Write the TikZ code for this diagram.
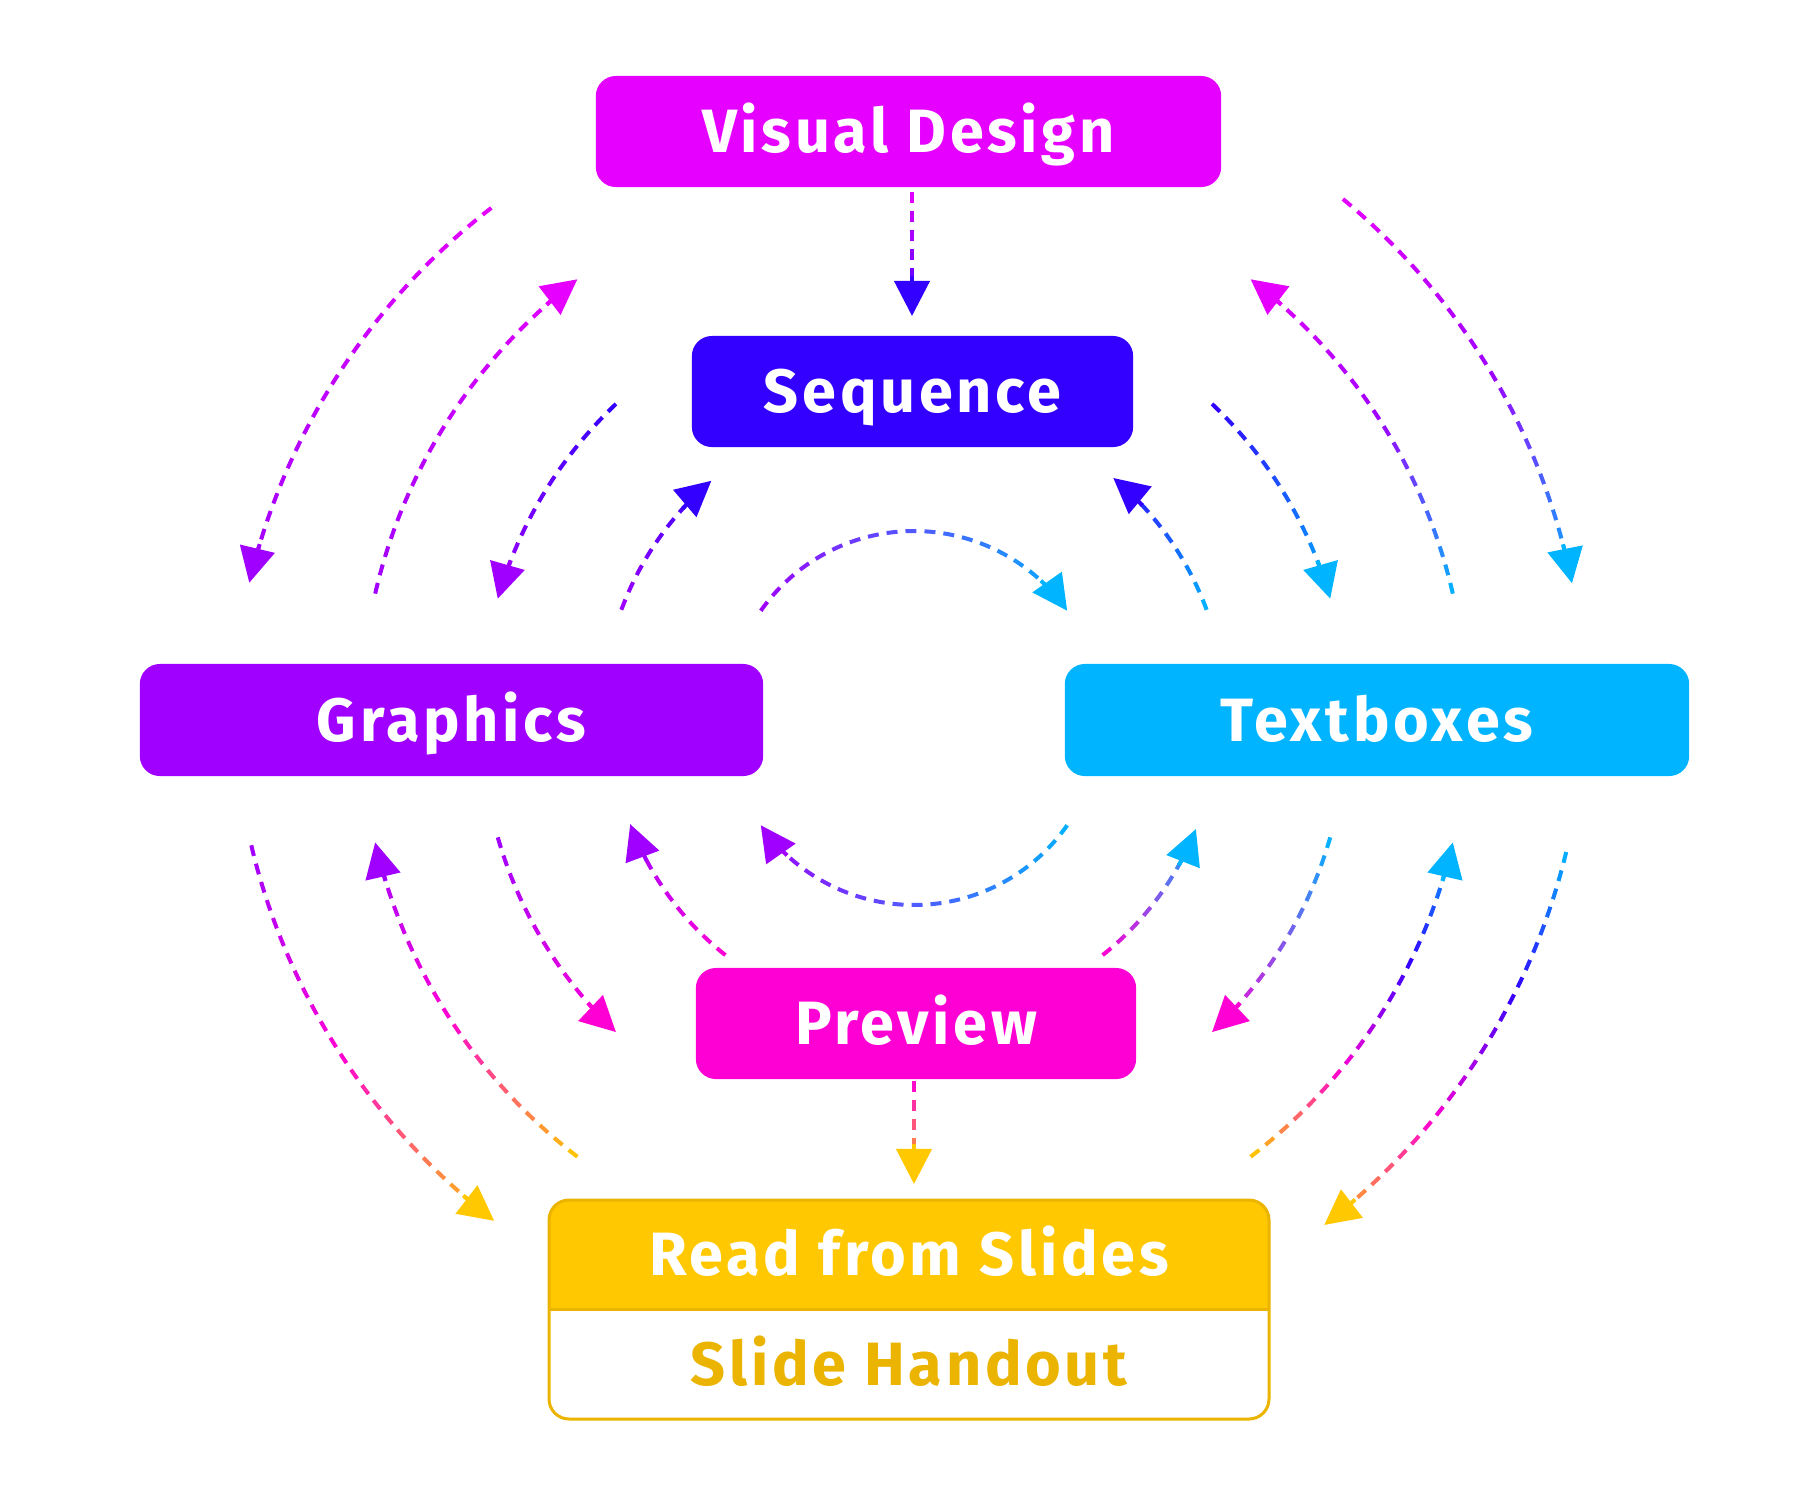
\documentclass[tikz,border=0pt]{standalone}
\usepackage{fontspec}
\usetikzlibrary{arrows.meta}
\newfontfamily\labelfont{Fira Sans}[LetterSpace=6]
\definecolor{cvd}{HTML}{E600FF}
\definecolor{cseq}{HTML}{3300FF}
\definecolor{cgr}{HTML}{A000FF}
\definecolor{ctb}{HTML}{00B4FF}
\definecolor{cpr}{HTML}{FF00D4}
\definecolor{cgold}{HTML}{FFC800}
\definecolor{cgolddark}{HTML}{EBB400}
\tikzset{
  dashseg/.style={line width=0.04cm, line cap=butt},
  headtip/.style={-{Triangle[length=0.35cm,width=0.35cm]}},
  box/.style={rounded corners=0.2cm, inner sep=0pt, text=white,
    font=\labelfont\bfseries\fontsize{17.4pt}{20pt}\selectfont,
    text height=0.42cm, text depth=0pt},
}
% colour at fraction #2 of a gradient with equally spaced stops #1 ("a","b",...)
\newcommand\gcol[2]{%
  \pgfmathtruncatemacro\gn{dim({#1})-1}%
  \pgfmathsetmacro\gx{(#2)*\gn}%
  \pgfmathtruncatemacro\gi{min(floor(\gx),\gn-1)}%
  \pgfmathtruncatemacro\gt{round(100*(\gx-\gi))}%
  \pgfmathtruncatemacro\gj{\gi+1}%
  \pgfmathparse{{#1}[\gi]}\edef\gca{\pgfmathresult}%
  \pgfmathparse{{#1}[\gj]}\edef\gcb{\pgfmathresult}%
  \colorlet{dc}{\gcb!\gt!\gca}%
}
% gradient dashed arc: #1 centre, #2 radius, #3 start angle, #4 end angle, #5 colour stops
\newcommand\garc[5]{%
  \pgfmathsetmacro\gL{abs(#4-#3)*(pi/180)*#2}%
  \pgfmathsetmacro\gB{\gL-35}%
  \pgfmathtruncatemacro\gN{floor((\gB-1)/19)}%
  \pgfmathsetmacro\gS{(#4>#3)?1:-1}%
  \pgfmathsetmacro\gD{180/pi/#2}%
  \foreach \k in {0,...,\gN}{%
    \pgfmathsetmacro\ga{#3+\gS*\k*19*\gD}%
    \pgfmathsetmacro\gb{#3+\gS*min(\k*19+11,\gB)*\gD}%
    \pgfmathsetmacro\gf{(\k*19+5.5)/\gL}%
    \gcol{#5}{\gf}%
    \draw[dashseg, dc] (#1) ++(\ga:#2) arc[start angle=\ga, end angle=\gb, radius=#2];
  }%
  \pgfmathsetmacro\ga{#4-\gS*40*\gD}%
  \gcol{#5}{1}%
  \draw[dashseg, dc, headtip] (#1) ++(\ga:#2) arc[start angle=\ga, end angle=#4, radius=#2];
}
% gradient dashed vertical line: #1 x, #2 y start, #3 y tip, #4 colour stops
\newcommand\gline[4]{%
  \pgfmathsetmacro\gL{#3-#2}%
  \pgfmathsetmacro\gB{\gL-35}%
  \pgfmathtruncatemacro\gN{floor((\gB-1)/19)}%
  \foreach \k in {0,...,\gN}{%
    \pgfmathsetmacro\ga{#2+\k*19}%
    \pgfmathsetmacro\gb{#2+min(\k*19+11,\gB)}%
    \pgfmathsetmacro\gf{(\k*19+5.5)/\gL}%
    \gcol{#4}{\gf}%
    \draw[dashseg, dc] (#1,\ga) -- (#1,\gb);
  }%
  \gcol{#4}{1}%
  \draw[dashseg, dc, headtip] (#1,#3-40) -- (#1,#3);
}
\begin{document}
\begin{tikzpicture}[x=0.01cm, y=-0.01cm]
\useasboundingbox[fill=white] (0,0) rectangle (1820,1496);
\coordinate (ctr) at (914,718);
\coordinate (ctl) at (901,738);
\coordinate (ctrr) at (915,714.5);
\coordinate (cbl) at (903,690);
\coordinate (cbr) at (915,694.5);

% boxes
\node[box, fill=cvd, minimum width=6.25cm, minimum height=1.11cm] (vd) at (908.5,131.5) {Visual Design};
\node[box, fill=cseq, minimum width=4.41cm, minimum height=1.11cm] (seq) at (912.5,391.5) {Sequence};
\node[box, fill=cgr, minimum width=6.23cm, minimum height=1.12cm] (gr) at (451.5,720) {Graphics};
\node[box, fill=ctb, minimum width=6.24cm, minimum height=1.12cm] (tb) at (1377,720) {Textboxes};
\node[box, fill=cpr, minimum width=4.40cm, minimum height=1.11cm] (pr) at (916,1023.5) {Preview};

% bottom two-part box
\fill[white, rounded corners=0.2cm] (549,1200) rectangle (1269,1419);
\begin{scope}
  \clip (540,1190) rectangle (1280,1309);
  \fill[cgold, rounded corners=0.2cm] (549,1200) rectangle (1269,1419);
\end{scope}
\draw[cgolddark, line width=0.03cm, rounded corners=0.2cm] (549,1200) rectangle (1269,1419);
\draw[cgolddark, line width=0.03cm] (549,1309) -- (1269,1309);
\node[box] (read) at (909,1254.5) {Read from Slides};
\node[box, text=cgolddark] (handout) at (909,1364) {Slide Handout};

% vertical connectors
\gline{912}{192}{316}{"cvd","cseq"}
\gline{914}{1081}{1184}{"cpr","cgold"}

% top-left quadrant
\garc{ctl}{670}{-127.7}{-166.6}{"cvd","cgr"}
\garc{ctr}{553}{-167}{-127.5}{"cgr","cvd"}
\garc{ctr}{433}{-133.5}{-164}{"cseq","cgr"}
\garc{ctr}{312}{-159.7}{-130.5}{"cgr","cseq"}
\garc{ctr}{187}{-145}{-35}{"cgr","ctb"}
% top-right quadrant
\garc{ctr}{312}{-20.3}{-50.3}{"ctb","cseq"}
\garc{ctr}{433}{-46.5}{-16}{"cseq","ctb"}
\garc{ctr}{553}{-13}{-52.5}{"ctb","cgr","cvd"}
\garc{ctrr}{670}{-50.3}{-11.3}{"cvd","cgr","ctb"}
% bottom-left quadrant
\garc{cbl}{670}{166.6}{127.6}{"cgr","cpr","cgold"}
\garc{ctr}{553}{127.5}{167}{"cgold","cpr","cgr"}
\garc{ctr}{433}{164}{133.5}{"cgr","cpr"}
\garc{ctr}{303}{128.5}{159.5}{"cpr","cgr"}
\garc{ctr}{187}{35}{145}{"ctb","cgr"}
% bottom-right quadrant
\garc{ctr}{303}{51.5}{21.5}{"cpr","ctb"}
\garc{ctr}{433}{16}{46.5}{"ctb","cpr"}
\garc{ctr}{553}{52.5}{13}{"cgold","cpr","cseq","ctb"}
\garc{cbr}{670}{13.6}{52.35}{"ctb","cseq","cpr","cgold"}
\end{tikzpicture}
\end{document}
